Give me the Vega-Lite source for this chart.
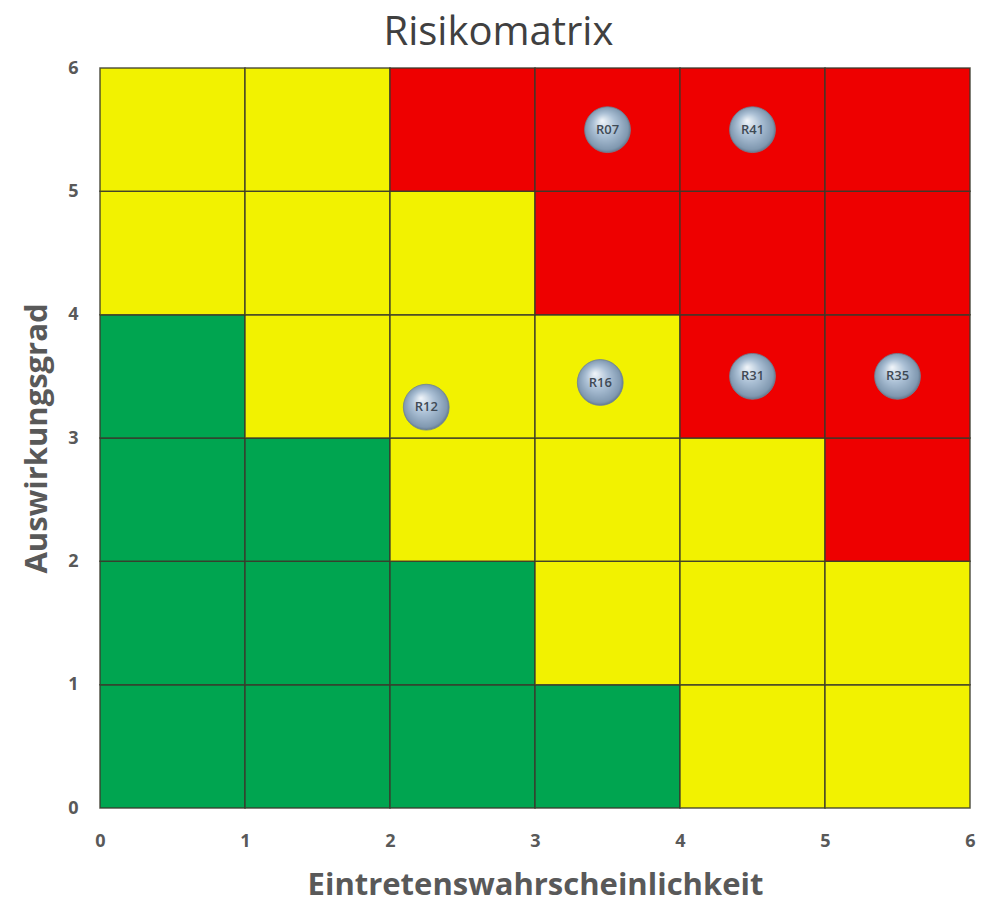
{
  "$schema": "https://vega.github.io/schema/vega-lite/v6.json",
  "width": 870,
  "height": 740,
  "autosize": {"type": "none"},
  "padding": {"left": 100, "top": 68, "right": 24, "bottom": 94},
  "background": "white",
  "title": {
    "text": "Risikomatrix",
    "font": "Open Sans",
    "fontSize": 40,
    "fontWeight": "normal",
    "color": "#404040",
    "anchor": "middle",
    "frame": "bounds",
    "offset": 6
  },
  "config": {
    "view": {"stroke": null},
    "axis": {
      "labelFont": "Open Sans",
      "titleFont": "Open Sans",
      "labelColor": "#595959",
      "titleColor": "#595959",
      "grid": false,
      "ticks": false,
      "domain": false,
      "labelFlush": false,
      "format": "d"
    }
  },
  "datasets": {
    "cells": [
      {"x": 0, "xe": 1, "y": 0, "ye": 1, "level": "niedrig"}, {"x": 1, "xe": 2, "y": 0, "ye": 1, "level": "niedrig"}, {"x": 2, "xe": 3, "y": 0, "ye": 1, "level": "niedrig"}, {"x": 3, "xe": 4, "y": 0, "ye": 1, "level": "niedrig"}, {"x": 4, "xe": 5, "y": 0, "ye": 1, "level": "mittel"}, {"x": 5, "xe": 6, "y": 0, "ye": 1, "level": "mittel"},
      {"x": 0, "xe": 1, "y": 1, "ye": 2, "level": "niedrig"}, {"x": 1, "xe": 2, "y": 1, "ye": 2, "level": "niedrig"}, {"x": 2, "xe": 3, "y": 1, "ye": 2, "level": "niedrig"}, {"x": 3, "xe": 4, "y": 1, "ye": 2, "level": "mittel"}, {"x": 4, "xe": 5, "y": 1, "ye": 2, "level": "mittel"}, {"x": 5, "xe": 6, "y": 1, "ye": 2, "level": "mittel"},
      {"x": 0, "xe": 1, "y": 2, "ye": 3, "level": "niedrig"}, {"x": 1, "xe": 2, "y": 2, "ye": 3, "level": "niedrig"}, {"x": 2, "xe": 3, "y": 2, "ye": 3, "level": "mittel"}, {"x": 3, "xe": 4, "y": 2, "ye": 3, "level": "mittel"}, {"x": 4, "xe": 5, "y": 2, "ye": 3, "level": "mittel"}, {"x": 5, "xe": 6, "y": 2, "ye": 3, "level": "hoch"},
      {"x": 0, "xe": 1, "y": 3, "ye": 4, "level": "niedrig"}, {"x": 1, "xe": 2, "y": 3, "ye": 4, "level": "mittel"}, {"x": 2, "xe": 3, "y": 3, "ye": 4, "level": "mittel"}, {"x": 3, "xe": 4, "y": 3, "ye": 4, "level": "mittel"}, {"x": 4, "xe": 5, "y": 3, "ye": 4, "level": "hoch"}, {"x": 5, "xe": 6, "y": 3, "ye": 4, "level": "hoch"},
      {"x": 0, "xe": 1, "y": 4, "ye": 5, "level": "mittel"}, {"x": 1, "xe": 2, "y": 4, "ye": 5, "level": "mittel"}, {"x": 2, "xe": 3, "y": 4, "ye": 5, "level": "mittel"}, {"x": 3, "xe": 4, "y": 4, "ye": 5, "level": "hoch"}, {"x": 4, "xe": 5, "y": 4, "ye": 5, "level": "hoch"}, {"x": 5, "xe": 6, "y": 4, "ye": 5, "level": "hoch"},
      {"x": 0, "xe": 1, "y": 5, "ye": 6, "level": "mittel"}, {"x": 1, "xe": 2, "y": 5, "ye": 6, "level": "mittel"}, {"x": 2, "xe": 3, "y": 5, "ye": 6, "level": "hoch"}, {"x": 3, "xe": 4, "y": 5, "ye": 6, "level": "hoch"}, {"x": 4, "xe": 5, "y": 5, "ye": 6, "level": "hoch"}, {"x": 5, "xe": 6, "y": 5, "ye": 6, "level": "hoch"}
    ],
    "risks": [
      {"id": "R07", "p": 3.5, "a": 5.5},
      {"id": "R41", "p": 4.5, "a": 5.5},
      {"id": "R12", "p": 2.25, "a": 3.25},
      {"id": "R16", "p": 3.45, "a": 3.45},
      {"id": "R31", "p": 4.5, "a": 3.5},
      {"id": "R35", "p": 5.5, "a": 3.5}
    ]
  },
  "layer": [
    {
      "data": {"name": "cells"},
      "mark": {"type": "rect", "stroke": "#3a3a2a", "strokeWidth": 1.5, "strokeOpacity": 0.85},
      "encoding": {
        "x": {
          "field": "x", "type": "quantitative",
          "scale": {"domain": [0, 6], "nice": false},
          "axis": {"values": [0, 1, 2, 3, 4, 5, 6], "title": "Eintretenswahrscheinlichkeit", "labelFontSize": 18, "labelFontWeight": "bold", "labelPadding": 24, "titleFontSize": 31, "titleFontWeight": "bold", "titlePadding": 20}
        },
        "x2": {"field": "xe"},
        "y": {
          "field": "y", "type": "quantitative",
          "scale": {"domain": [0, 6], "nice": false},
          "axis": {"values": [0, 1, 2, 3, 4, 5, 6], "title": "Auswirkungsgrad", "labelFontSize": 18, "labelFontWeight": "bold", "labelPadding": 22, "titleFontSize": 31, "titleFontWeight": "bold", "titlePadding": 14}
        },
        "y2": {"field": "ye"},
        "color": {
          "field": "level", "type": "nominal",
          "scale": {"domain": ["niedrig", "mittel", "hoch"], "range": ["#00A550", "#F2F200", "#EE0000"]},
          "legend": null
        }
      }
    },
    {
      "data": {"name": "risks"},
      "mark": {
        "type": "point",
        "shape": "circle",
        "filled": true,
        "size": 2100,
        "opacity": 1,
        "stroke": "#6f8396",
        "strokeWidth": 0.8,
        "color": {
          "gradient": "radial",
          "x1": 0.38, "y1": 0.3, "r1": 0,
          "x2": 0.5, "y2": 0.5, "r2": 0.55,
          "stops": [
            {"offset": 0, "color": "#f2f6fa"},
            {"offset": 0.45, "color": "#abc0d5"},
            {"offset": 0.85, "color": "#8098b0"},
            {"offset": 1, "color": "#4d6276"}
          ]
        }
      },
      "encoding": {
        "x": {"field": "p", "type": "quantitative"},
        "y": {"field": "a", "type": "quantitative"}
      }
    },
    {
      "data": {"name": "risks"},
      "mark": {"type": "text", "font": "Open Sans", "fontSize": 13, "fontWeight": 600, "color": "#3f4a55", "align": "center", "baseline": "middle"},
      "encoding": {
        "x": {"field": "p", "type": "quantitative"},
        "y": {"field": "a", "type": "quantitative"},
        "text": {"field": "id"}
      }
    }
  ]
}
